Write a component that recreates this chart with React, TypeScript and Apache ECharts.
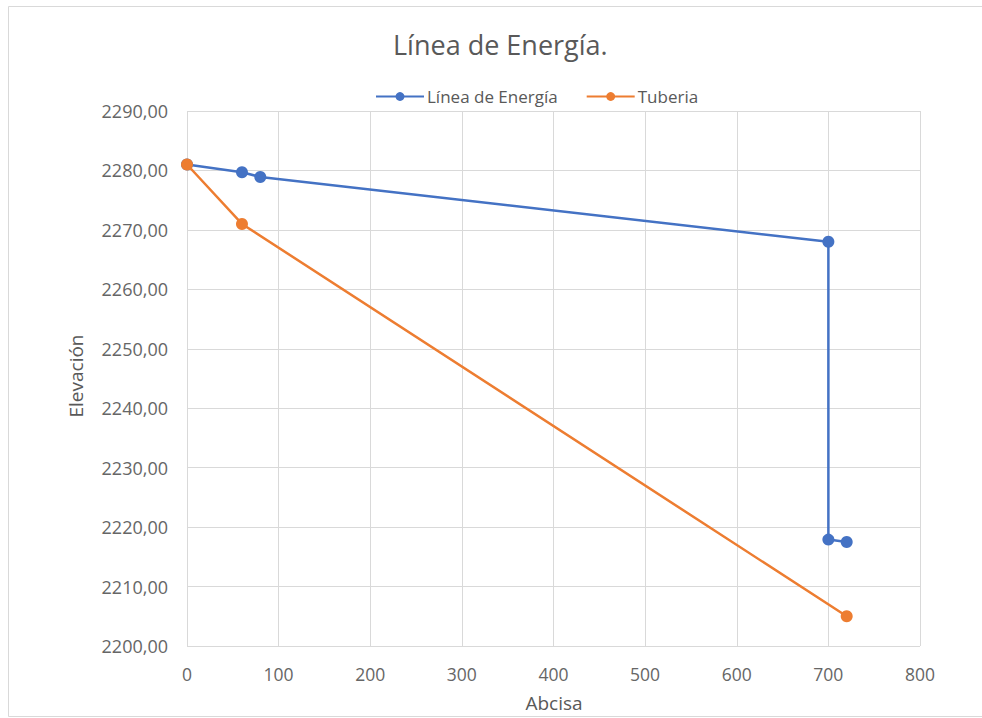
import React, { useEffect, useRef } from "react";
import * as echarts from "echarts";

const titleText = "Línea de Energía.";
const seriesNames = ["Línea de Energía", "Tuberia"];
const energiaX = [0, 60, 80, 700, 700, 720];
const energiaY = [2281, 2279.7, 2278.9, 2268, 2217.9, 2217.5];
const tuberiaX = [0, 60, 720];
const tuberiaY = [2281, 2271, 2205];
const xAxisTitle = "Abcisa";
const yAxisTitle = "Elevación";

const FONT = "'Open Sans', 'Noto Sans', sans-serif";

export default function App() {
  const ref = useRef<HTMLDivElement>(null);
  useEffect(() => {
    if (!ref.current) return;
    const chart = echarts.init(ref.current, undefined, { renderer: "svg" });
    const toPairs = (xs: number[], ys: number[]) => xs.map((x, i) => [x, ys[i]]);
    chart.setOption({
      animation: false,
      backgroundColor: "#ffffff",
      title: {
        text: titleText,
        left: 388,
        top: 26,
        textStyle: { fontFamily: FONT, fontSize: 27, fontWeight: "normal", color: "#595959" },
      },
      legend: {
        left: 370,
        top: 83,
        itemWidth: 48,
        itemHeight: 11,
        itemGap: 28,
        textStyle: { fontFamily: FONT, fontSize: 17, color: "#595959", padding: [0, 0, 0, -2] },
        data: seriesNames,
      },
      grid: { left: 187, right: 62, top: 111, bottom: 72, containLabel: false },
      xAxis: {
        type: "value",
        min: 0,
        max: 800,
        interval: 100,
        axisLine: { show: false },
        axisTick: { show: false },
        axisLabel: { fontFamily: FONT, fontSize: 17.5, color: "#666666", margin: 19 },
        splitLine: { show: true, lineStyle: { color: "#d9d9d9", width: 1 } },
      },
      yAxis: {
        type: "value",
        min: 2200,
        max: 2290,
        interval: 10,
        axisLine: { show: false },
        axisTick: { show: false },
        axisLabel: {
          fontFamily: FONT,
          fontSize: 18,
          color: "#666666",
          margin: 19,
          formatter: (v: number) => v.toFixed(2).replace(".", ","),
        },
        splitLine: { show: true, lineStyle: { color: "#d9d9d9", width: 1 } },
      },
      graphic: [
        {
          type: "rect",
          shape: { x: 8.5, y: 6.5, width: 1000, height: 710 },
          style: { fill: "none", stroke: "#d9d9d9", lineWidth: 1 },
          silent: true,
          z: -1,
        },
        {
          type: "text",
          x: 554,
          y: 703,
          style: {
            text: xAxisTitle,
            font: `19px ${FONT}`,
            fill: "#595959",
            textAlign: "center",
            textVerticalAlign: "middle",
          },
        },
        {
          type: "text",
          x: 75.5,
          y: 376,
          rotation: Math.PI / 2,
          style: {
            text: yAxisTitle,
            font: `19px ${FONT}`,
            fill: "#595959",
            textAlign: "center",
            textVerticalAlign: "middle",
          },
        },
      ],
      series: [
        {
          name: seriesNames[0],
          type: "line",
          data: toPairs(energiaX, energiaY),
          symbol: "circle",
          symbolSize: 12,
          itemStyle: { color: "#4472C4" },
          lineStyle: { color: "#4472C4", width: 2.5 },
          z: 2,
        },
        {
          name: seriesNames[1],
          type: "line",
          data: toPairs(tuberiaX, tuberiaY),
          symbol: "circle",
          symbolSize: 12,
          itemStyle: { color: "#ED7D31" },
          lineStyle: { color: "#ED7D31", width: 2.5 },
          z: 3,
        },
      ],
    });
    return () => chart.dispose();
  }, []);
  return (
    <div
      ref={ref}
      style={{ position: "fixed", left: 0, top: 0, width: 982, height: 718 }}
    />
  );
}
